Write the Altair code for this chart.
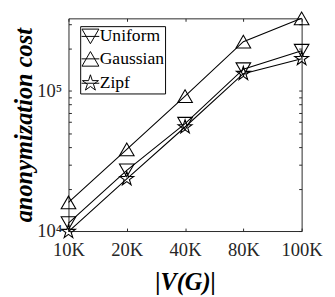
import altair as alt
import pandas as pd

sizes = ["10K", "20K", "40K", "80K", "100K"]
series = ["Uniform", "Gaussian", "Zipf"]
uniform = [11400, 27100, 58400, 143000, 194000]
gaussian = [16000, 38300, 91900, 225000, 330000]
zipf = [9900, 23600, 55300, 133000, 170000]

y_ticks = [1e4, 2e4, 3e4, 4e4, 5e4, 6e4, 7e4, 8e4, 9e4, 1e5, 2e5, 3e5]

rows = []
for name, vals in zip(series, [uniform, gaussian, zipf]):
    for s, v in zip(sizes, vals):
        rows.append({"size": s, "cost": v, "series": name, "leg": name})
df = pd.DataFrame(rows)

STAR = ("M0,-1L0.2245,-0.309L0.951,-0.309L0.363,0.118L0.588,0.809L0,0.382"
        "L-0.588,0.809L-0.363,0.118L-0.951,-0.309L-0.2245,-0.309Z")
TRI_DOWN_L = "M-1,-0.866L1,-0.866L0,0.866ZM-1.05,0L1.05,0"
TRI_UP_L = "M0,-0.866L1,0.866L-1,0.866ZM-1.05,0L1.05,0"
STAR_L = STAR + "M-1.05,0L1.05,0"

FONT = "Liberation Serif"
TICK = 3
AX_COLOR = "#262626"

xscale = alt.Scale(type="point", padding=0)
yscale = alt.Scale(type="log", domain=[1e4, 3.3e5], nice=False)

common_axis = dict(grid=False, domain=False, tickColor=AX_COLOR, tickSize=TICK,
                   offset=-TICK, labelFont=FONT, labelFontSize=19, labelColor=AX_COLOR)

x_bottom = alt.Axis(orient="bottom", labelPadding=10, title="|V(G)|", titleFont=FONT,
                    titleFontSize=25, titleFontWeight="bold", titleFontStyle="italic",
                    titleColor="black", titleX=119.5, titleY=63, titleBaseline="alphabetic",
                    titleAlign="center", labelAngle=0, **common_axis)
y_left = alt.Axis(orient="left", values=y_ticks, labelPadding=7,
                  labelExpr="datum.value == 10000 ? '10⁴' : (datum.value == 100000 ? '10⁵' : '')",
                  title="anonymization cost", titleFont=FONT, titleFontSize=25,
                  titleFontWeight="bold", titleFontStyle="italic", titleColor="black",
                  titleAngle=270, titleX=-41, titleY=109, titleAlign="center",
                  titleBaseline="alphabetic", **common_axis)
x_top = alt.Axis(orient="top", labels=False, title=None, grid=False, domain=False,
                 tickColor=AX_COLOR, tickSize=TICK, offset=-TICK)
y_right = alt.Axis(orient="right", values=y_ticks, labels=False, title=None, grid=False,
                   domain=False, tickColor=AX_COLOR, tickSize=TICK, offset=-TICK)

base = alt.Chart(df)

lines = base.mark_line(color="black", strokeWidth=1.1).encode(
    x=alt.X("size:N", sort=sizes, scale=xscale, axis=x_bottom),
    y=alt.Y("cost:Q", scale=yscale, axis=y_left),
    detail="series:N",
)

points = base.mark_point(filled=False, color="black", strokeWidth=1.1, size=225, opacity=1).encode(
    x=alt.X("size:N", sort=sizes, scale=xscale, axis=x_top),
    y=alt.Y("cost:Q", scale=yscale, axis=y_right),
    shape=alt.Shape("series:N", sort=series,
                    scale=alt.Scale(domain=series, range=["triangle-down", "triangle-up", STAR]),
                    legend=None),
)

legend_layer = base.mark_point(filled=False, color="black", opacity=0, size=300).encode(
    x=alt.X("size:N", sort=sizes, scale=xscale, axis=None),
    y=alt.Y("cost:Q", scale=yscale, axis=None),
    shape=alt.Shape("leg:N", sort=series,
                    scale=alt.Scale(domain=series, range=[TRI_DOWN_L, TRI_UP_L, STAR_L]),
                    legend=alt.Legend(title=None, orient="none", legendX=12, legendY=8,
                                      labelFont=FONT, labelFontSize=18, labelColor="black",
                                      symbolStrokeColor="black", symbolFillColor="transparent",
                                      symbolOpacity=1, symbolStrokeWidth=1, symbolSize=300,
                                      strokeColor="black", fillColor="white", padding=1,
                                      rowPadding=4, labelOffset=0)),
)

chart = alt.layer(lines, points, legend_layer).resolve_axis(
    x="independent", y="independent"
).resolve_scale(shape="independent").properties(
    width=239, height=218,
    autosize=alt.AutoSizeParams(type="none"),
    padding={"left": 62, "top": 7, "right": 26, "bottom": 64},
).configure_view(stroke=AX_COLOR, strokeWidth=1)

chart.save("out.html", embed_options={"renderer": "svg", "actions": False})
